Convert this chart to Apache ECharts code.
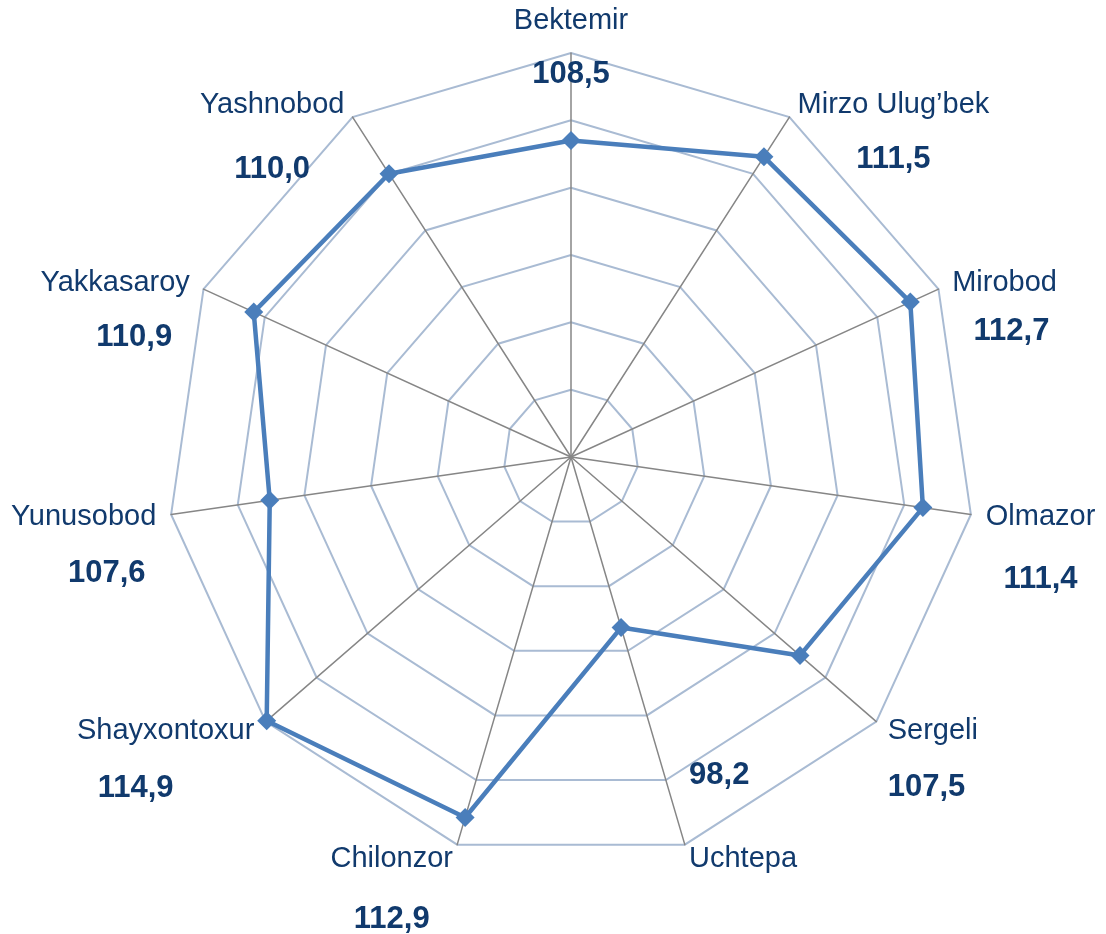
<!DOCTYPE html>
<html>
<head>
<meta charset="utf-8">
<script src="https://cdn.jsdelivr.net/npm/echarts@6/dist/echarts.min.js"></script>
<style>
  html, body { margin: 0; padding: 0; background: #fff; }
  #radarChart { width: 1106px; height: 934px; }
</style>
</head>
<body>
<div id="radarChart"></div>
<script>
// districts, clockwise from the top
var districts = ["Bektemir", "Mirzo Ulug’bek", "Mirobod", "Olmazor", "Sergeli", "Uchtepa",
  "Chilonzor", "Shayxontoxur", "Yunusobod", "Yakkasaroy", "Yashnobod"];
var values = [108.5, 111.5, 112.7, 111.4, 107.5, 98.2, 112.9, 114.9, 107.6, 110.9, 110.0];
var axisMin = 85;
var axisMax = 115;

// label layout: line heights [top, name, bottom], where the value sits, nudge of the value
var labelLines = [
  { h: [32, 40, 66], valueAt: "bottom", align: "center", pad: 0 },
  { h: [55, 55, 55], valueAt: "bottom", align: "center", pad: 0 },
  { h: [49, 49, 49], valueAt: "bottom", align: "center", pad: 14 },
  { h: [63, 63, 63], valueAt: "bottom", align: "center", pad: 0 },
  { h: [56, 56, 56], valueAt: "bottom", align: "left", pad: 0 },
  { h: [84, 84, 84], valueAt: "top", align: "left", pad: 0 },
  { h: [60, 60, 60], valueAt: "bottom", align: "center", pad: 0 },
  { h: [57, 57, 57], valueAt: "bottom", align: "center", pad: -60 },
  { h: [57, 57, 57], valueAt: "bottom", align: "center", pad: 46 },
  { h: [55, 55, 55], valueAt: "bottom", align: "center", pad: 38 },
  { h: [65, 65, 65], valueAt: "bottom", align: "center", pad: 0 }
];

var textColor = "#113A6D";

// echarts radar goes counter-clockwise, so feed it in reverse after the first
var order = [0];
for (var k = districts.length - 1; k > 0; k--) order.push(k);

var rich = {};
labelLines.forEach(function (L, i) {
  var vh = L.valueAt === "top" ? L.h[0] : L.h[2];
  rich["e" + i] = { fontSize: 10, lineHeight: L.h[0], align: "center" };
  rich["f" + i] = { fontSize: 10, lineHeight: L.h[2], align: "center" };
  rich["n" + i] = {
    fontSize: 29, lineHeight: L.h[1], color: textColor, align: "center",
    fontFamily: "Liberation Sans, Arial, sans-serif"
  };
  rich["v" + i] = {
    fontSize: 31, fontWeight: "bold", lineHeight: vh, color: textColor, align: L.align,
    fontFamily: "Liberation Sans, Arial, sans-serif"
  };
  rich["p" + i] = { fontSize: 10, width: Math.abs(L.pad), lineHeight: vh, align: "center" };
});

function labelText(name) {
  var i = districts.indexOf(name);
  var L = labelLines[i];
  var val = values[i].toFixed(1).replace(".", ",");
  var vTok = "{v" + i + "|" + val + "}";
  if (L.pad > 0) vTok = "{p" + i + "| }" + vTok;
  if (L.pad < 0) vTok = vTok + "{p" + i + "| }";
  var top = L.valueAt === "top" ? vTok : "{e" + i + "| }";
  var bottom = L.valueAt === "bottom" ? vTok : "{f" + i + "| }";
  return top + "\n{n" + i + "|" + name + "}\n" + bottom;
}

var myChart = echarts.init(document.getElementById("radarChart"));
var option = {
  backgroundColor: "#ffffff",
  animation: false,
  radar: {
    center: [571, 457],
    radius: 404,
    startAngle: 90,
    shape: "polygon",
    splitNumber: 6,
    nameGap: 15,
    indicator: order.map(function (i) {
      return { name: districts[i], min: axisMin, max: axisMax };
    }),
    axisName: {
      formatter: labelText,
      verticalAlign: "middle",
      color: textColor,
      rich: rich
    },
    axisLine: { lineStyle: { color: "#868686", width: 1.5 } },
    splitLine: { lineStyle: { color: "#A9BBD3", width: 2 } },
    splitArea: { show: false }
  },
  series: [
    {
      type: "radar",
      symbol: "diamond",
      symbolSize: 19,
      lineStyle: { color: "#4A7EBB", width: 4.5 },
      itemStyle: { color: "#4A7EBB" },
      data: [{ value: order.map(function (i) { return values[i]; }), name: "2023" }]
    }
  ]
};
myChart.setOption(option);
</script>
</body>
</html>
